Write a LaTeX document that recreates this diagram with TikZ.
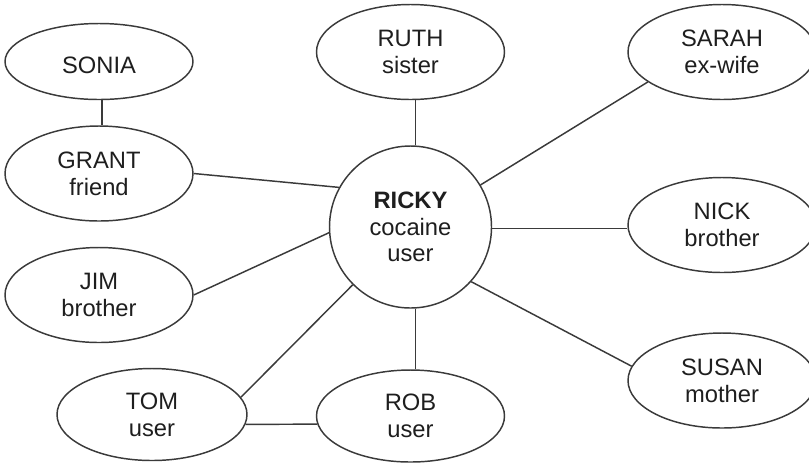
\documentclass[tikz,border=0pt]{standalone}
\usepackage{fontspec}
\setmainfont{Liberation Sans}
\usetikzlibrary{shapes.geometric}
\definecolor{linecol}{HTML}{3A3A3A}
\definecolor{textcol}{HTML}{1E1E1E}
\begin{document}
\begin{tikzpicture}[x=0.75pt,y=-0.75pt,
  person/.style={ellipse, draw=linecol, line width=1.1pt, inner sep=0pt,
    align=center, text=textcol, font=\fontsize{17.8}{20}\selectfont,
    execute at begin node={\rule{0pt}{18.75pt}}},
  wide/.style={minimum width=141pt, minimum height=71.25pt},
  low/.style={minimum width=141pt, minimum height=69pt},
  hub/.style={circle, draw=linecol, line width=1.1pt, inner sep=0pt,
    minimum size=121.5pt, align=center, text=textcol,
    font=\fontsize{17.8}{20}\selectfont,
    execute at begin node={\rule{0pt}{20.25pt}}},
  link/.style={draw=linecol, line width=1.1pt}]
\useasboundingbox (0,0) rectangle (809,462);
\node[person, minimum width=141pt, minimum height=57pt] (sonia) at (99,61.5) {SONIA};
\node[person, wide] (grant) at (99,173.5) {GRANT\\friend};
\node[person, wide] (jim) at (99,295) {JIM\\brother};
\node[person, wide] (ruth) at (410.5,52) {RUTH\\sister};
\node[person, wide] (sarah) at (722,52) {SARAH\\ex-wife};
\node[person, wide] (nick) at (722,225) {NICK\\brother};
\node[person, wide] (susan) at (722,380.5) {SUSAN\\mother};
\node[person, low, minimum width=142.5pt] (tom) at (152,414.5) {TOM\\user};
\node[person, low] (rob) at (410.5,416) {ROB\\user};
\node[hub] (ricky) at (410.5,227) {\textbf{RICKY}\\cocaine\\user};
\path[link] ([xshift=2.25pt]sonia.south) -- ([xshift=2.25pt]grant.north);
\path[link] (grant.east) -- (ricky.151);
\path[link] (jim.east) -- (ricky.184);
\path[link] ([xshift=3.75pt]ruth.south) -- ([xshift=3.75pt]ricky.north);
\path[link] (sarah.202.5) -- (ricky.31);
\path[link] (ricky.-1.5) -- (nick.west |- ricky.-1.5);
\path[link] (susan.171.4) -- (ricky.-42);
\path[link] (tom.11) -- (ricky.225);
\path[link] ([xshift=3.75pt]rob.north) -- ([xshift=3.75pt]ricky.south);
\path[link] (tom.-6) -- (rob.185);
\end{tikzpicture}
\end{document}
